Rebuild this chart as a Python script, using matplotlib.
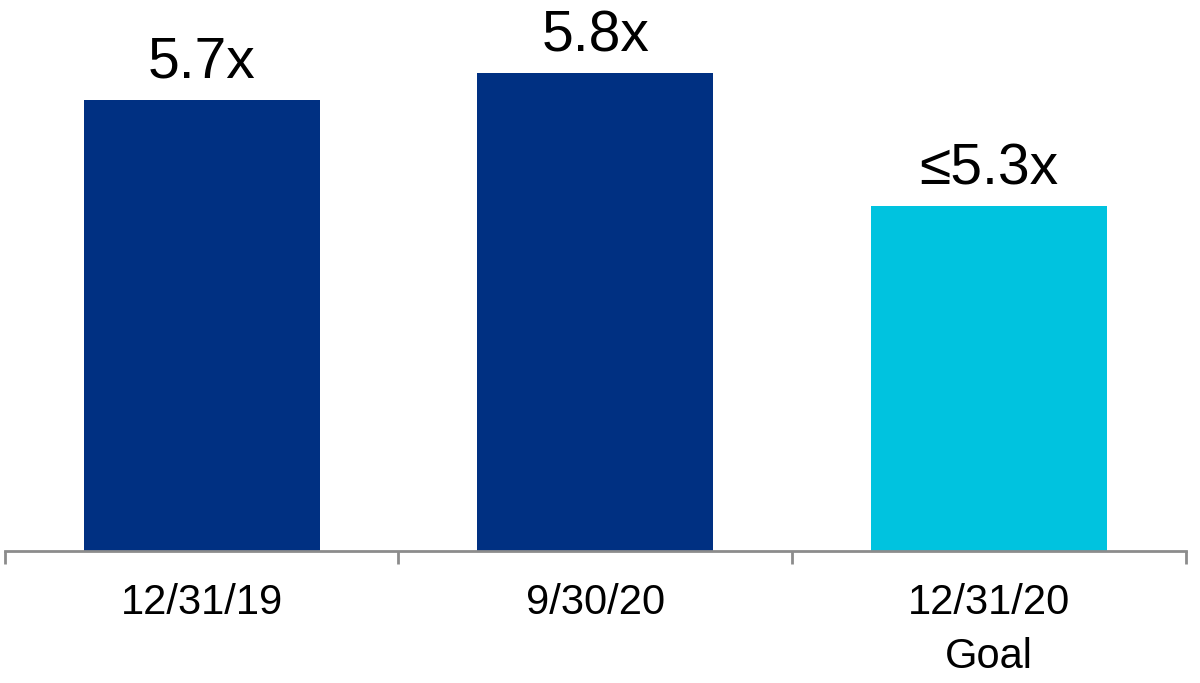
import numpy as np
import matplotlib
matplotlib.use("Agg")
import matplotlib.pyplot as plt

plt.rcParams['font.family'] = ['Liberation Sans', 'DejaVu Sans']

categories = ["12/31/19", "9/30/20", "12/31/20\nGoal"]
values = [5.7, 5.8, 5.3]
value_labels = ["5.7x", "5.8x", "\u22645.3x"]
colors = ["#003082", "#003082", "#00C3DF"]

fig = plt.figure(figsize=(12, 6.83), dpi=100)
ax = fig.add_axes([0.004, 0.193, 0.984, 0.807])

x = np.arange(len(categories))
bars = ax.bar(x, np.array(values) - 4.0, bottom=4.0, width=0.6, color=colors)

for bar, lab in zip(bars, value_labels):
    ax.annotate(lab, (bar.get_x() + bar.get_width() / 2, bar.get_y() + bar.get_height()),
                xytext=(0, 7), textcoords="offset points",
                ha="center", va="bottom", fontsize=41)

ax.set_xlim(-0.5, len(categories) - 0.5)
ax.set_ylim(4.0, 6.075)

for side in ["top", "right", "left"]:
    ax.spines[side].set_visible(False)
ax.spines["bottom"].set_color("#8c8c8c")
ax.spines["bottom"].set_linewidth(2)
ax.set_yticks([])

ax.set_xticks(np.arange(len(categories) + 1) - 0.5)
ax.set_xticklabels([])
ax.tick_params(axis="x", which="major", length=9, width=2, color="#8c8c8c", direction="out")
ax.set_xticks(x, minor=True)
ax.set_xticklabels(categories, minor=True, fontsize=30, linespacing=1.45)
ax.tick_params(axis="x", which="minor", length=0, pad=23)

fig.savefig("out.png", dpi=100)
